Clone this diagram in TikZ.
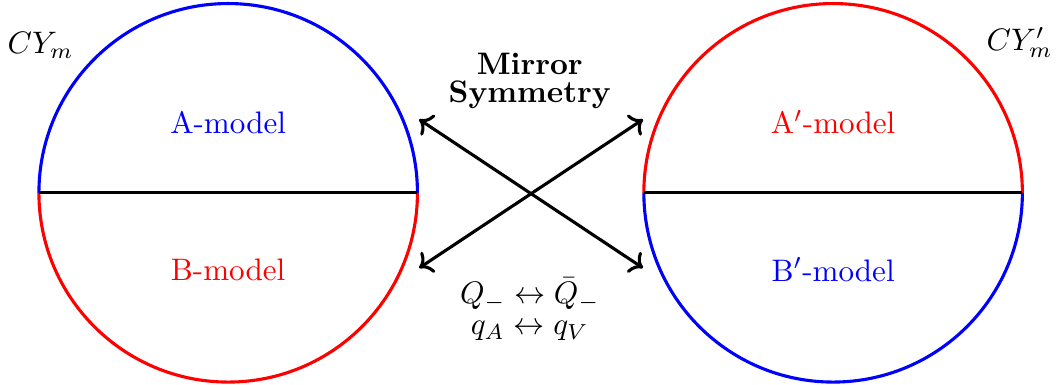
\documentclass[tikz,border=0pt]{standalone}
\usepackage{amsmath}
\usetikzlibrary{arrows.meta,positioning}

\begin{document}
\begin{tikzpicture}[line width=1pt]
\useasboundingbox (-2.58,-2.17) rectangle (9.36,2.18);
% CY_m: A-model on top, B-model below
\draw[blue] (2.14,0) arc (0:180:2.14);
\draw[red] (-2.14,0) arc (180:360:2.14);
\draw (-2.14,0) -- (2.14,0);
\node[blue] (amod) at (0,0.80) {A-model};
\node[red] (bmod) at (0,-0.87) {B-model};
\node (cy) at (-2.12,1.67) {$CY_m$};
% CY'_m: roles swapped
\draw[red] (8.98,0) arc (0:180:2.14);
\draw[blue] (4.70,0) arc (180:360:2.14);
\draw (4.70,0) -- (8.98,0);
\node[red] (apmod) at (6.84,0.80) {A$'$-model};
\node[blue] (bpmod) at (6.84,-0.87) {B$'$-model};
\node (cyp) at (8.95,1.70) {$CY'_m$};
% mirror map
\node[align=center,font=\bfseries] (mirror) at (3.41,1.26) {Mirror\\[-3pt]Symmetry};
\node[align=center] (swap) at (3.41,-1.32) {$Q_-\leftrightarrow\bar{Q}_-$\\[-2pt]$q_A\leftrightarrow q_V$};
\coordinate (tl) at (2.16,0.83);
\coordinate (tr) at (4.69,0.83);
\coordinate (bl) at (2.16,-0.85);
\coordinate (br) at (4.69,-0.85);
\draw[<->] (tl) -- (br);
\draw[<->] (bl) -- (tr);
\end{tikzpicture}
\end{document}
